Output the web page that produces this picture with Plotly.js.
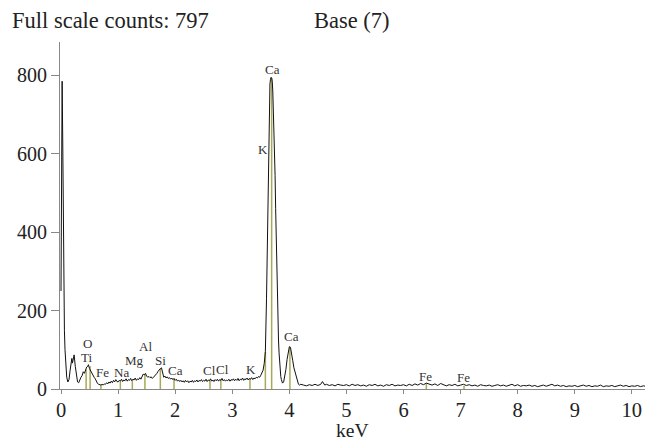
<!DOCTYPE html>
<html>
<head>
<meta charset="utf-8">
<script src="https://cdn.plot.ly/plotly-3.0.1.min.js"></script>
<style>html,body{margin:0;padding:0;background:#fff;}#chart{width:645px;height:441px;}</style>
</head>
<body>
<div id="chart"></div>
<script>
// Spectrum (energy in keV, counts)
const energyKeV = [
0,0.01,0.02,0.03,0.04,0.05,0.06,0.07,0.08,0.10,0.12,0.14,0.16,0.18,0.19,0.20,0.21,0.23,0.25,0.27,0.29,0.31,0.33,0.35,0.37,0.39,0.41,0.43,0.45,0.47,0.48,0.50,0.52,0.54,0.56,0.58,0.60,0.62,0.64,0.66,0.68,0.70,0.72,0.74,0.76,0.78,0.80,0.82,0.84,0.86,0.88,0.90,0.92,0.94,0.96,0.98,
1.00,1.02,1.04,1.06,1.08,1.10,1.12,1.14,1.16,1.18,1.20,1.22,1.24,1.26,1.28,1.30,1.32,1.34,1.36,1.38,1.40,1.42,1.44,1.46,1.48,1.50,1.52,1.54,1.56,1.58,1.60,1.62,1.64,1.66,1.68,1.70,1.72,1.74,1.76,1.78,1.80,1.82,1.84,1.86,1.88,1.90,1.92,1.94,1.96,1.98,
2.00,2.02,2.04,2.06,2.08,2.10,2.12,2.14,2.16,2.18,2.20,2.22,2.24,2.26,2.28,2.30,2.32,2.34,2.36,2.38,2.40,2.42,2.44,2.46,2.48,2.50,2.52,2.54,2.56,2.58,2.60,2.62,2.64,2.66,2.68,2.70,2.72,2.74,2.76,2.78,2.80,2.82,2.84,2.86,2.88,2.90,2.92,2.94,2.96,2.98,
3.00,3.02,3.04,3.06,3.08,3.10,3.12,3.14,3.16,3.18,3.20,3.22,3.24,3.26,3.28,3.30,3.32,3.34,3.36,3.38,3.40,3.42,3.44,3.46,3.48,3.50,3.52,3.54,3.56,3.58,3.60,3.61,3.62,3.63,3.64,3.65,3.66,3.67,3.68,3.69,3.70,3.71,3.72,3.73,3.74,3.75,3.76,3.77,3.78,3.79,3.80,3.81,3.82,3.83,3.84,3.85,3.86,3.87,3.88,3.90,3.92,3.94,3.96,3.98,
4.00,4.02,4.04,4.06,4.08,4.10,4.12,4.14,4.16,4.18,4.20,4.25,4.30,4.35,4.40,4.45,4.50,4.55,4.58,4.62,4.65,4.70,4.75,4.80,4.85,4.90,4.95,
5.00,5.05,5.10,5.15,5.20,5.25,5.30,5.35,5.40,5.45,5.50,5.55,5.60,5.65,5.70,5.75,5.80,5.85,5.90,5.95,
6.00,6.05,6.10,6.15,6.20,6.25,6.30,6.35,6.40,6.45,6.50,6.55,6.60,6.65,6.70,6.75,6.80,6.85,6.90,6.95,
7.00,7.05,7.10,7.15,7.20,7.25,7.30,7.35,7.40,7.45,7.50,7.55,7.60,7.65,7.70,7.75,7.80,7.85,7.90,7.95,
8.00,8.05,8.10,8.15,8.20,8.25,8.30,8.35,8.40,8.45,8.50,8.55,8.60,8.65,8.70,8.75,8.80,8.85,8.90,8.95,
9.00,9.05,9.10,9.15,9.20,9.25,9.30,9.35,9.40,9.45,9.50,9.55,9.60,9.65,9.70,9.75,9.80,9.85,9.90,9.95,
10.00,10.05,10.10,10.15,10.20,10.25
];
const counts = [
250,690,785,640,430,260,150,100,62,30,18,24,48,72,78,66,74,87,58,32,18,16,24,30,34,44,40,48,56,58,62,52,46,40,32,30,26,18,14,12,11,10,12,10,13,12,16,13,18,15,20,16,22,18,24,19,
18,22,20,25,19,23,21,26,20,24,22,27,21,25,23,28,22,26,24,29,25,30,38,36,40,33,30,32,29,31,27,30,33,36,40,45,50,52,54,38,30,33,28,31,27,29,25,28,24,27,
22,25,20,23,19,22,18,21,17,22,18,21,16,20,18,22,17,21,19,23,18,22,20,24,19,22,20,25,19,23,21,26,20,23,19,24,21,25,20,24,22,27,21,24,20,23,21,25,20,24,
22,26,21,25,22,27,21,25,23,28,22,26,24,28,23,27,25,29,24,28,26,30,28,32,30,35,40,48,65,95,230,329,460,584,680,755,778,790,795,793,785,760,715,660,610,545,460,380,300,230,170,125,92,65,45,32,24,18,15,18,30,50,75,98,
108,106,92,72,54,42,28,17,12,10,12,10,8,11,9,12,9,12,19,10,12,9,11,8,12,10,9,
11,8,12,9,11,8,10,7,11,9,12,8,10,7,11,9,12,8,10,9,
11,8,12,9,13,10,14,11,15,12,10,13,9,14,10,8,11,9,12,8,
10,12,9,11,8,10,7,11,9,8,10,7,9,11,8,10,7,9,12,8,
11,7,9,8,10,7,9,6,8,10,7,9,12,8,10,7,9,6,8,7,
9,6,8,10,7,9,6,8,7,10,6,8,7,9,6,8,10,7,9,6,
8,7,9,6,8,7
];

// Element marker lines and labels
const markerLabel  = ["Ti","O","Fe","Na","Mg","Al","Si","Ca","Cl","Cl","K","K","Ca","Ca","Fe","Fe"];
const markerEnergy = [0.44,0.51,0.70,1.04,1.25,1.47,1.74,1.98,2.61,2.80,3.31,3.58,3.69,4.01,6.40,7.06];
const markerHeight = [50,58,10,20,22,38,52,26,22,25,27,95,793,108,15,8];
const labelX       = [0.44,0.47,0.73,1.06,1.28,1.48,1.74,2.01,2.60,2.83,3.32,3.54,3.71,4.04,6.39,7.05];
const labelY       = [80,117,41,42,73,108,72,46,47,49,49,611,816,134,32,30];

const titleLeft = "Full scale counts: 797";
const titleRight = "Base (7)";
const xTitle = "keV";
const xTicks = [0,1,2,3,4,5,6,7,8,9,10];
const yTicks = [0,200,400,600,800];

const lx = [], ly = [];
markerEnergy.forEach((e, i) => { lx.push(e, e, null); ly.push(0, markerHeight[i], null); });

const serif = 'Liberation Serif';

const traces = [
  {x: lx, y: ly, type: 'scatter', mode: 'lines', line: {color: '#a8a858', width: 1.5}, hoverinfo: 'skip', showlegend: false},
  {x: energyKeV, y: counts, type: 'scatter', mode: 'lines', line: {color: '#111', width: 1}, showlegend: false}
];

const annotations = markerLabel.map((t, i) => ({
  x: labelX[i], y: labelY[i], xref: 'x', yref: 'y', text: t, showarrow: false,
  xanchor: 'center', yanchor: 'middle', font: {family: serif, size: 13, color: '#333'}
}));
annotations.push({x: -0.085, y: 1.062, xref: 'paper', yref: 'paper', text: titleLeft, showarrow: false,
  xanchor: 'left', yanchor: 'middle', font: {family: serif, size: 22.5, color: '#222'}});
annotations.push({x: 0.431, y: 1.062, xref: 'paper', yref: 'paper', text: titleRight, showarrow: false,
  xanchor: 'left', yanchor: 'middle', font: {family: serif, size: 22.5, color: '#222'}});
annotations.push({x: 0.5, y: -0.152, xref: 'paper', yref: 'paper', text: xTitle, showarrow: false,
  xanchor: 'center', yanchor: 'bottom', borderpad: 0, font: {family: serif, size: 19.5, color: '#222'}});

const layout = {
  width: 645, height: 441,
  margin: {l: 60, r: 0, t: 42, b: 52, pad: 0},
  paper_bgcolor: '#fff', plot_bgcolor: '#fff',
  font: {family: serif, color: '#222'},
  xaxis: {
    range: [-0.0175, 10.23], showgrid: false, zeroline: false,
    showline: true, linecolor: '#888', linewidth: 1,
    ticks: 'outside', ticklen: 4, tickcolor: '#888', tickwidth: 1,
    ticklabelstandoff: -2,
    tickmode: 'array', tickvals: xTicks, ticktext: xTicks.map(String),
    tickfont: {family: serif, size: 20.5, color: '#222'}
  },
  yaxis: {
    range: [0, 885], showgrid: false, zeroline: false,
    showline: true, linecolor: '#888', linewidth: 1,
    ticks: 'outside', ticklen: 8, tickcolor: '#888', tickwidth: 1,
    tickmode: 'array', tickvals: yTicks, ticktext: yTicks.map(String),
    tickfont: {family: serif, size: 20, color: '#222'}
  },
  annotations: annotations,
  showlegend: false
};

Plotly.newPlot('chart', traces, layout, {staticPlot: true, displayModeBar: false});
</script>
</body>
</html>
